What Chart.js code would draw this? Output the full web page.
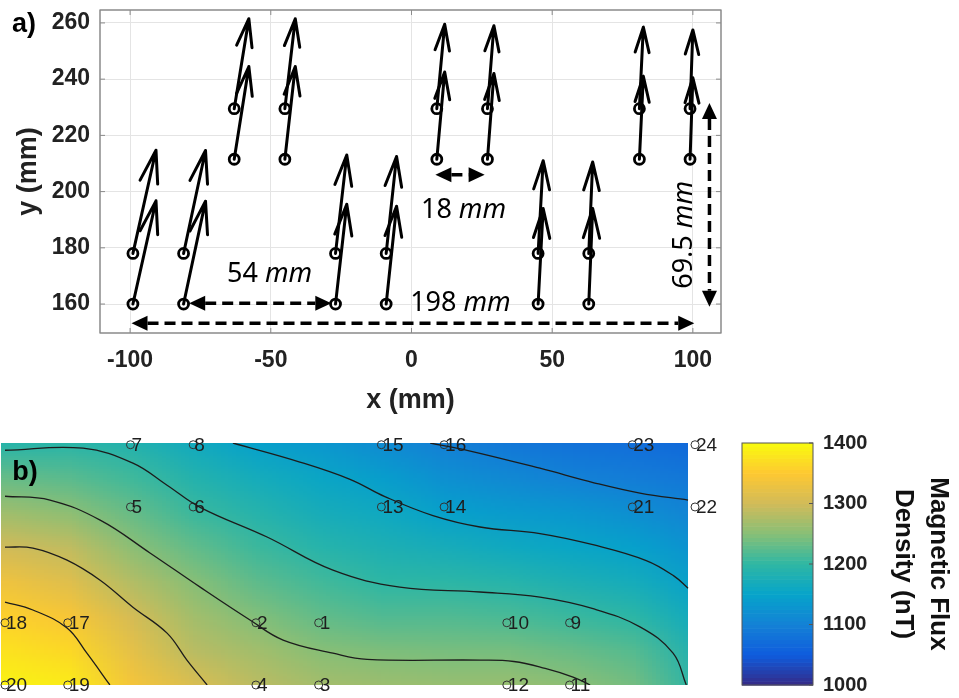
<!DOCTYPE html>
<html>
<head>
<meta charset="utf-8">
<script src="https://cdn.jsdelivr.net/npm/chart.js@4.4.1/dist/chart.umd.min.js"></script>
<style>
  html, body { margin: 0; padding: 0; background: #fff; }
  #wrap { position: relative; width: 959px; height: 698px; overflow: hidden; }
  #sensorChart { position: absolute; left: 0; top: 0; display: block; }
  #fluxChart { position: absolute; left: 0; top: 420px; display: block; }
</style>
</head>
<body>
<div id="wrap">
  <canvas id="sensorChart" width="959" height="420"></canvas>
  <canvas id="fluxChart" width="959" height="278"></canvas>
</div>
<script>
// ---- data ----
const xTicks = [-100, -50, 0, 50, 100];
const yTicks = [160, 180, 200, 220, 240, 260];
const cbTicks = [1000, 1100, 1200, 1300, 1400];

// sensor positions (mm) and field vectors drawn as arrows in panel a)
const sensorIds = [1, 2, 3, 4, 5, 6, 7, 8, 9, 10, 11, 12, 13, 14, 15, 16, 17, 18, 19, 20, 21, 22, 23, 24];
const sensorX = [-9, -27, -9, -27, -63, -45, -63, -45, 63, 45, 63, 45, 9, 27, 9, 27, -81, -99, -81, -99, 81, 99, 81, 99];
const sensorY = [178, 178, 160, 160, 211.5, 211.5, 229.5, 229.5, 178, 178, 160, 160, 211.5, 211.5, 229.5, 229.5, 178, 178, 160, 160, 211.5, 211.5, 229.5, 229.5];
const fieldU = [3.7, 4, 3.7, 4, 5.2, 3.7, 5.2, 3.7, 1.4, 1.8, 1.4, 1.8, 2.8, 2.3, 2.8, 2.3, 7.8, 8.2, 7.8, 8.2, 1.4, 1, 1.4, 1];
const fieldV = [34.5, 35, 34.8, 35.5, 33, 33, 32, 32, 32.5, 33, 34, 34, 31, 30.5, 30, 29.5, 36.6, 36.7, 36.6, 36.7, 29.5, 29, 29, 28];

// flux density map (nT) of panel b), one row per y value
const gridX = [-99, -81, -63, -45, -27, -9, 9, 27, 45, 63, 81, 99];
const gridY = [230, 220, 210, 200, 190, 180, 170, 160];
const fluxRow230 = [1193, 1196, 1188, 1166, 1146, 1133, 1115, 1098, 1088, 1080, 1075, 1068];
const fluxRow220 = [1232, 1225, 1210, 1188, 1170, 1156, 1142, 1122, 1112, 1102, 1095, 1086];
const fluxRow210 = [1266, 1255, 1232, 1207, 1190, 1172, 1162, 1145, 1137, 1131, 1120, 1104];
const fluxRow200 = [1300, 1289, 1254, 1229, 1208, 1191, 1180, 1172, 1163, 1155, 1145, 1124];
const fluxRow190 = [1332, 1316, 1280, 1250, 1227, 1211, 1199, 1197, 1191, 1180, 1170, 1144];
const fluxRow180 = [1358, 1343, 1305, 1268, 1247, 1230, 1220, 1220, 1216, 1207, 1197, 1165];
const fluxRow170 = [1375, 1366, 1322, 1284, 1268, 1251, 1245, 1242, 1241, 1233, 1222, 1183];
const fluxRow160 = [1392, 1385, 1340, 1310, 1285, 1270, 1265, 1262, 1262, 1255, 1240, 1195];
const fluxGrid = [fluxRow230, fluxRow220, fluxRow210, fluxRow200, fluxRow190, fluxRow180, fluxRow170, fluxRow160];
const mapRight = 97; // right edge of the map (mm)

// contour lines
const contour1100 = [[23, 230], [33.6, 227.9], [54.5, 222.7], [70, 218.5], [83.2, 215.5], [97, 213.5]];
const contour1150 = [[-33.6, 230], [-14.4, 224.5], [0, 219.5], [10, 214.5], [23.8, 209], [37.3, 205.7], [54.5, 203.8], [70, 200.5], [85, 196], [93, 191.5], [97, 188]];
const contour1200 = [[-99, 227.9], [-76.6, 228.5], [-62.3, 224.2], [-52.5, 217.8], [-43, 211.4], [-23.8, 202.8], [-4.9, 193.2], [14.3, 188.3], [37.3, 186.9], [54.5, 185.4], [70, 182], [83.2, 176.8], [92.7, 169.2], [96.5, 160]];
const contour1250 = [[-99, 214.6], [-86.1, 213.5], [-71.7, 207.7], [-57.4, 198.2], [-43, 188.3], [-28.7, 178.8], [-19.2, 173], [-4.9, 169.2], [4.9, 167.4], [37.3, 167.2], [47, 166.8], [56, 164.8], [64, 162.3], [68.9, 160]];
const contour1300 = [[-99, 199.9], [-91, 199.6], [-81.2, 196.1], [-71.7, 190.3], [-62.3, 182.5], [-52.5, 175], [-46.8, 167.2], [-41, 160]];
const contour1350 = [[-99, 184], [-91, 181.7], [-81.2, 176.5], [-75.5, 169.2], [-68.9, 160]];
const contours = [contour1100, contour1150, contour1200, contour1250, contour1300, contour1350];

// ---- helpers ----
const FONT = '"Liberation Sans", Arial, sans-serif';
const parulaStops = [
  [53, 42, 135], [15, 92, 221], [20, 129, 214], [6, 164, 202], [46, 183, 164],
  [135, 191, 119], [209, 187, 89], [254, 200, 50], [249, 251, 14]
];
function parula(t) {
  t = Math.max(0, Math.min(1, t));
  const p = t * (parulaStops.length - 1);
  const i = Math.min(Math.floor(p), parulaStops.length - 2);
  const f = p - i, a = parulaStops[i], b = parulaStops[i + 1];
  return [0, 1, 2].map(k => Math.round(a[k] + (b[k] - a[k]) * f));
}

function dimArrow(ctx, x0, y0, x1, y1) {
  const ang = Math.atan2(y1 - y0, x1 - x0);
  const ux = Math.cos(ang), uy = Math.sin(ang);
  const hl = 16, hw = 7.5;
  ctx.lineWidth = 3.5;
  ctx.setLineDash([11, 6]);
  ctx.beginPath();
  ctx.moveTo(x0 + ux * hl, y0 + uy * hl);
  ctx.lineTo(x1 - ux * hl, y1 - uy * hl);
  ctx.stroke();
  ctx.setLineDash([]);
  [[x0, y0, -1], [x1, y1, 1]].forEach(([tx, ty, s]) => {
    const bx = tx - s * ux * hl, by = ty - s * uy * hl;
    ctx.beginPath();
    ctx.moveTo(tx, ty);
    ctx.lineTo(bx - uy * hw, by + ux * hw);
    ctx.lineTo(bx + uy * hw, by - ux * hw);
    ctx.closePath();
    ctx.fill();
  });
}

function dimText(ctx, label, cx, cy, rot) {
  const parts = label.split(' ');
  const upright = '27px "Noto Sans", "Open Sans", sans-serif';
  const ital = 'italic 27px "Noto Sans", "Open Sans", sans-serif';
  ctx.font = upright;
  const w1 = ctx.measureText(parts[0] + ' ').width;
  ctx.font = ital;
  const w2 = ctx.measureText(parts[1]).width;
  ctx.save();
  ctx.translate(cx, cy);
  ctx.rotate(rot);
  ctx.textBaseline = 'middle';
  ctx.textAlign = 'left';
  ctx.font = upright;
  ctx.fillText(parts[0] + ' ', -(w1 + w2) / 2, 0);
  ctx.font = ital;
  ctx.fillText(parts[1], -(w1 + w2) / 2 + w1, 0);
  ctx.restore();
}

// dimension annotations of panel a), in mm
const dimensions = [
  { label: '18 mm', from: [8.5, 206], to: [26, 206], text: [18.5, 193.5], rot: 0 },
  { label: '54 mm', from: [-79, 160.3], to: [-28.5, 160.3], text: [-50.4, 170.7], rot: 0 },
  { label: '198 mm', from: [-99.5, 153.2], to: [100.5, 153.2], text: [17.4, 160.2], rot: 0 },
  { label: '69.5 mm', from: [105.9, 231.5], to: [105.9, 159], text: [97, 184.6], rot: -Math.PI / 2 }
];

// ---- panel a) ----
const sensorPlugin = {
  id: 'sensorDecor',
  afterDatasetsDraw(chart) {
    const { ctx, chartArea: a, scales: { x, y } } = chart;
    ctx.save();
    // quiver arrows
    ctx.strokeStyle = '#000';
    ctx.lineWidth = 3;
    ctx.lineCap = 'round';
    ctx.lineJoin = 'round';
    sensorX.forEach((sx, i) => {
      const x0 = x.getPixelForValue(sx), y0 = y.getPixelForValue(sensorY[i]);
      const x1 = x.getPixelForValue(sx + fieldU[i]), y1 = y.getPixelForValue(sensorY[i] + fieldV[i]);
      const ang = Math.atan2(y1 - y0, x1 - x0);
      const head = Math.hypot(x1 - x0, y1 - y0) * 0.32;
      ctx.beginPath();
      ctx.moveTo(x0, y0);
      ctx.lineTo(x1, y1);
      ctx.moveTo(x1 - head * Math.cos(ang - 0.27), y1 - head * Math.sin(ang - 0.27));
      ctx.lineTo(x1, y1);
      ctx.lineTo(x1 - head * Math.cos(ang + 0.27), y1 - head * Math.sin(ang + 0.27));
      ctx.stroke();
    });
    // dimension arrows + text
    ctx.lineCap = 'butt';
    ctx.fillStyle = '#000';
    dimensions.forEach(d => {
      dimArrow(ctx, x.getPixelForValue(d.from[0]), y.getPixelForValue(d.from[1]),
        x.getPixelForValue(d.to[0]), y.getPixelForValue(d.to[1]));
      dimText(ctx, d.label, x.getPixelForValue(d.text[0]), y.getPixelForValue(d.text[1]), d.rot);
    });
    // box + inward ticks
    ctx.strokeStyle = '#8a8a8a';
    ctx.lineWidth = 1.5;
    ctx.strokeRect(a.left, a.top, a.right - a.left, a.bottom - a.top);
    ctx.lineWidth = 1;
    ctx.beginPath();
    xTicks.forEach(v => {
      const p = x.getPixelForValue(v);
      ctx.moveTo(p, a.bottom); ctx.lineTo(p, a.bottom - 5);
      ctx.moveTo(p, a.top); ctx.lineTo(p, a.top + 5);
    });
    yTicks.forEach(v => {
      const p = y.getPixelForValue(v);
      ctx.moveTo(a.left, p); ctx.lineTo(a.left + 5, p);
      ctx.moveTo(a.right, p); ctx.lineTo(a.right - 5, p);
    });
    ctx.stroke();
    // panel letter
    ctx.fillStyle = '#000';
    ctx.font = 'bold 27px ' + FONT;
    ctx.textAlign = 'center';
    ctx.textBaseline = 'middle';
    ctx.fillText('a)', 24, 25);
    ctx.restore();
  }
};

new Chart(document.getElementById('sensorChart').getContext('2d'), {
  type: 'scatter',
  data: {
    datasets: [{
      label: 'Sensors',
      data: sensorX.map((v, i) => ({ x: v, y: sensorY[i] })),
      pointStyle: 'circle',
      pointRadius: 5,
      borderWidth: 2.8,
      borderColor: '#000',
      backgroundColor: 'rgba(0,0,0,0)'
    }]
  },
  options: {
    responsive: false,
    animation: false,
    layout: { autoPadding: false, padding: { top: 10, right: 238, left: 0, bottom: 0 } },
    scales: {
      x: {
        type: 'linear',
        min: -110.7,
        max: 110,
        afterBuildTicks: s => { s.ticks = xTicks.map(v => ({ value: v })); },
        afterFit: s => { s.height = 87; },
        grid: { color: '#e4e4e4', drawTicks: true, tickLength: 14, tickColor: 'rgba(0,0,0,0)' },
        border: { display: false },
        ticks: { padding: 0, color: '#222', font: { family: FONT, size: 23, weight: 'bold' } },
        title: { display: true, text: 'x (mm)', color: '#222', padding: { top: 0, bottom: 3 },
          font: { family: FONT, size: 27, weight: 'bold' } }
      },
      y: {
        type: 'linear',
        min: 149.7,
        max: 264.6,
        afterBuildTicks: s => { s.ticks = yTicks.map(v => ({ value: v })); },
        afterFit: s => { s.width = 100; },
        grid: { color: '#e4e4e4', drawTicks: true, tickLength: 10, tickColor: 'rgba(0,0,0,0)' },
        border: { display: false },
        ticks: { padding: 0, color: '#222', font: { family: FONT, size: 23, weight: 'bold', lineHeight: 0.8 } },
        title: { display: true, text: 'y (mm)', color: '#222', padding: { top: 12, bottom: 0 },
          font: { family: FONT, size: 27, weight: 'bold' } }
      }
    },
    plugins: { legend: { display: false }, tooltip: { enabled: false } }
  },
  plugins: [sensorPlugin]
});

// ---- panel b) ----
const fluxPlugin = {
  id: 'fluxMap',
  beforeDatasetsDraw(chart) {
    const { ctx, chartArea: a, scales: { x, y } } = chart;
    const nx = gridX.length, ny = gridY.length;
    const off = document.createElement('canvas');
    off.width = nx; off.height = ny;
    const octx = off.getContext('2d');
    const img = octx.createImageData(nx, ny);
    fluxGrid.forEach((row, r) => row.forEach((v, c) => {
      const col = parula((v - 1000) / 400), k = (r * nx + c) * 4;
      img.data[k] = col[0]; img.data[k + 1] = col[1]; img.data[k + 2] = col[2]; img.data[k + 3] = 255;
    }));
    octx.putImageData(img, 0, 0);
    const hx = (gridX[1] - gridX[0]) / 2, hy = (gridY[0] - gridY[1]) / 2;
    const left = x.getPixelForValue(gridX[0] - hx), right = x.getPixelForValue(gridX[nx - 1] + hx);
    const top = y.getPixelForValue(gridY[0] + hy), bottom = y.getPixelForValue(gridY[ny - 1] - hy);
    const clipRight = x.getPixelForValue(mapRight);
    ctx.save();
    ctx.beginPath();
    ctx.rect(a.left, a.top, clipRight - a.left, a.bottom - a.top);
    ctx.clip();
    ctx.imageSmoothingEnabled = true;
    ctx.imageSmoothingQuality = 'low';
    ctx.drawImage(off, left, top, right - left, bottom - top);
    ctx.restore();
  },
  afterDatasetsDraw(chart) {
    const { ctx, chartArea: a, scales: { x, y, cb } } = chart;
    ctx.save();
    // sensor numbers
    ctx.fillStyle = '#1e1e1e';
    ctx.font = '19px ' + FONT;
    ctx.textAlign = 'left';
    ctx.textBaseline = 'middle';
    sensorIds.forEach((id, i) => {
      ctx.fillText(String(id), x.getPixelForValue(sensorX[i]) + 1, y.getPixelForValue(sensorY[i]) + 1);
    });
    // colorbar
    const bl = a.right + 42, br = a.right + 113;
    const lo = cbTicks[0], hi = cbTicks[cbTicks.length - 1];
    const n = 64;
    for (let i = 0; i < n; i++) {
      const v0 = lo + (hi - lo) * i / n, v1 = lo + (hi - lo) * (i + 1) / n;
      const c = parula((i + 0.5) / n);
      ctx.fillStyle = `rgb(${c[0]},${c[1]},${c[2]})`;
      const p0 = cb.getPixelForValue(v0), p1 = cb.getPixelForValue(v1);
      ctx.fillRect(bl, p1, br - bl, p0 - p1 + 0.6);
    }
    ctx.strokeStyle = '#555';
    ctx.lineWidth = 1;
    ctx.strokeRect(bl, cb.getPixelForValue(hi), br - bl, cb.getPixelForValue(lo) - cb.getPixelForValue(hi));
    ctx.beginPath();
    cbTicks.forEach(v => {
      const p = cb.getPixelForValue(v);
      ctx.moveTo(br, p); ctx.lineTo(br - 4, p);
    });
    ctx.stroke();
    // panel letter
    ctx.fillStyle = '#000';
    ctx.font = 'bold 27px ' + FONT;
    ctx.textAlign = 'center';
    ctx.fillText('b)', 25, 53);
    ctx.restore();
  }
};

const contourSets = contours.map((pts, i) => ({
  label: 'contour ' + i,
  data: pts.map(([px, py]) => ({ x: px, y: py })),
  showLine: true,
  tension: 0.4,
  pointRadius: 0,
  borderColor: '#1c1c1c',
  borderWidth: 1.3,
  fill: false
}));

new Chart(document.getElementById('fluxChart').getContext('2d'), {
  type: 'scatter',
  data: {
    datasets: [...contourSets, {
      label: 'Sensors',
      data: sensorX.map((v, i) => ({ x: v, y: sensorY[i] })),
      pointStyle: 'circle',
      pointRadius: 4,
      borderWidth: 1,
      borderColor: '#333',
      backgroundColor: 'rgba(0,0,0,0)',
      clip: false
    }]
  },
  options: {
    responsive: false,
    animation: false,
    layout: { autoPadding: false, padding: { top: 23, right: 0, left: 1, bottom: 13 } },
    scales: {
      x: { type: 'linear', min: -100.15, max: 100.43, display: false },
      y: { type: 'linear', min: 160, max: 230, display: false },
      cb: {
        axis: 'y',
        type: 'linear',
        position: 'right',
        min: 1000,
        max: 1400,
        afterBuildTicks: s => { s.ticks = cbTicks.map(v => ({ value: v })); },
        afterFit: s => { s.width = 259; },
        grid: { display: true, drawOnChartArea: false, drawTicks: true, tickLength: 123, color: 'rgba(0,0,0,0)' },
        border: { display: false },
        ticks: { padding: 0, color: '#222', callback: v => String(v),
          font: { family: FONT, size: 20, weight: 'bold' } },
        title: {
          display: true,
          text: ['Magnetic Flux', 'Density (nT)'],
          color: '#111',
          padding: { top: 3, bottom: 0 },
          font: { family: FONT, size: 26, weight: 'bold', lineHeight: 1.35 }
        }
      }
    },
    plugins: { legend: { display: false }, tooltip: { enabled: false } }
  },
  plugins: [fluxPlugin]
});
</script>
</body>
</html>
